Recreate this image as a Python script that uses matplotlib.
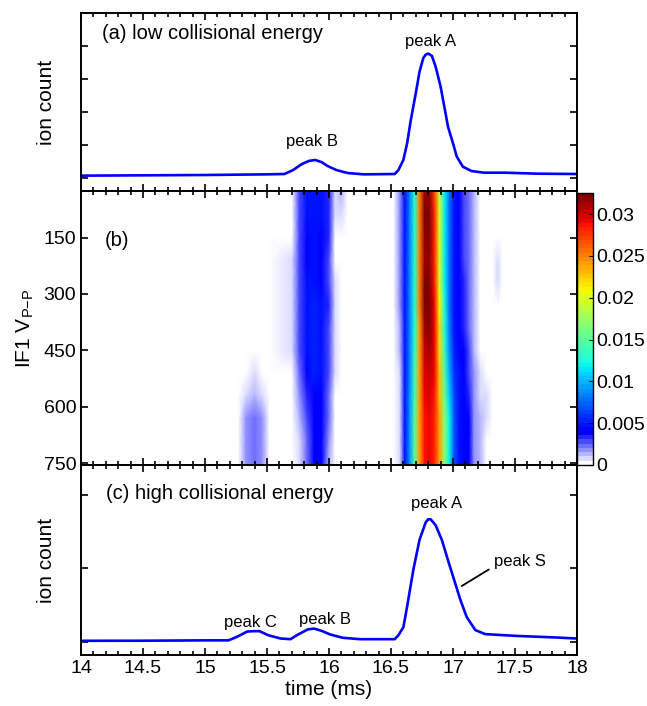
import numpy as np
import matplotlib
matplotlib.use('Agg')
import matplotlib.pyplot as plt
from matplotlib.colors import ListedColormap

plt.rcParams['font.family'] = ['Liberation Sans', 'DejaVu Sans']

# (a) low collisional energy trace (arbitrary units)
top_t = [14.0, 14.5, 15.0, 15.5, 15.64, 15.71, 15.78, 15.84, 15.89, 15.94, 15.99, 16.06,
         16.15, 16.28, 16.53, 16.56, 16.60, 16.63, 16.66, 16.70, 16.73, 16.76, 16.78,
         16.80, 16.83, 16.86, 16.90, 16.93, 16.96, 17.00, 17.03, 17.08, 17.15, 17.25,
         17.42, 17.68, 18.0]
top_y = [0.07, 0.08, 0.09, 0.11, 0.12, 0.24, 0.42, 0.52, 0.545, 0.48, 0.36, 0.24,
         0.15, 0.11, 0.12, 0.24, 0.55, 1.05, 1.76, 2.57, 3.22, 3.63, 3.74,
         3.77, 3.70, 3.37, 2.77, 2.16, 1.55, 1.05, 0.65, 0.34, 0.21, 0.16,
         0.16, 0.13, 0.12]

# (c) high collisional energy trace
bot_t = [14.0, 14.5, 15.0, 15.19, 15.26, 15.34, 15.39, 15.44, 15.51, 15.61, 15.69, 15.74,
         15.83, 15.88, 15.94, 16.01, 16.11, 16.25, 16.53, 16.56, 16.60, 16.63, 16.68,
         16.73, 16.78, 16.80, 16.82, 16.86, 16.91, 16.96, 17.01, 17.06, 17.11, 17.18,
         17.26, 17.52, 17.82, 18.0]
bot_y = [0.014, 0.015, 0.02, 0.02, 0.07, 0.14, 0.145, 0.145, 0.09, 0.045, 0.036, 0.09,
         0.17, 0.18, 0.15, 0.10, 0.055, 0.036, 0.036, 0.09, 0.2, 0.48, 0.98,
         1.39, 1.63, 1.67, 1.67, 1.59, 1.39, 1.11, 0.84, 0.57, 0.34, 0.16,
         0.105, 0.08, 0.06, 0.045]

# (b) map: time columns, IF1 voltage rows, values in units of 1e-3
map_t = [14.0,
         15.27, 15.33, 15.40, 15.46, 15.52,
         15.70, 15.76, 15.82, 15.88, 15.94, 16.00, 16.05, 16.10, 16.15,
         16.52, 16.57, 16.61, 16.65, 16.69, 16.73, 16.77, 16.81, 16.85, 16.89, 16.93,
         16.97, 17.01, 17.05, 17.09, 17.13, 17.17, 17.22, 17.27, 17.32, 17.36, 17.40,
         18.0]
map_v = [26, 90, 150, 210, 270, 330, 390, 450, 510, 570, 630, 690, 755]

peak_c = [[0, 0, 0, 0, 0], [0, 0, 0, 0, 0], [0, 0, 0, 0, 0], [0, 0, 0, 0, 0],
          [0, 0, 0, 0, 0], [0, 0, 0, 0, 0], [0, 0, 0, 0, 0], [0, 0, 0.4, 0, 0],
          [0, 0.4, 1.0, 0.4, 0], [0, 1.0, 1.5, 0.8, 0], [0, 2.0, 2.2, 1.8, 0],
          [0, 2.0, 2.3, 2.0, 0], [0, 2.0, 2.3, 2.0, 0]]
peak_b = [[0, 3.0, 4.6, 4.8, 4.6, 3.5, 1.0, 1.2, 0],
          [0, 3.0, 4.6, 4.8, 4.6, 3.5, 0.8, 1.0, 0],
          [0.5, 3.0, 4.5, 4.8, 4.5, 3.2, 0.5, 0.3, 0],
          [0.8, 3.0, 4.5, 5.0, 4.5, 3.0, 0.5, 0, 0],
          [0.8, 3.0, 4.6, 5.0, 4.5, 3.0, 0.8, 0, 0],
          [1.0, 3.0, 4.8, 5.2, 4.8, 3.2, 1.0, 0, 0],
          [1.0, 3.0, 5.0, 5.5, 5.0, 3.0, 1.0, 0, 0],
          [1.0, 3.0, 5.0, 5.5, 5.0, 3.0, 1.0, 0, 0],
          [0.5, 2.5, 4.5, 5.2, 4.8, 3.0, 0.8, 0, 0],
          [0, 2.0, 3.5, 4.5, 4.2, 2.5, 0.5, 0, 0],
          [0, 1.5, 3.0, 4.2, 4.0, 2.5, 0.3, 0, 0],
          [0, 1.0, 2.5, 4.5, 4.2, 2.0, 0, 0, 0],
          [0, 1.0, 2.5, 4.5, 4.0, 1.5, 0, 0, 0]]
peak_a = [[0, 2, 5, 8.5, 13, 25, 31, 31.5, 27, 19, 12, 8, 5, 4.5, 3, 2.5, 1.5, 0.3, 0, 0, 0, 0],
          [0, 2, 5, 8.5, 13, 25, 32, 32.5, 28, 20, 12, 8, 5, 4.5, 3, 2.5, 1.5, 0.3, 0, 0, 0, 0],
          [0, 2, 5, 8.5, 13, 25, 31.5, 32, 28, 20, 12, 8, 5, 4.5, 3, 2.5, 1.5, 0.5, 0, 0, 0.5, 0],
          [0, 2, 5, 8.5, 13, 25, 31, 31.5, 28, 20, 12, 8, 5, 4.5, 3, 2.5, 1.5, 0.5, 0, 0, 1.0, 0],
          [0, 2, 5, 8.5, 13, 25, 32, 32.5, 28.5, 20, 12, 8, 5, 4.5, 3.5, 2.5, 1.5, 0.5, 0, 0, 1.0, 0],
          [0, 2, 5, 8.5, 13, 25, 32, 32.5, 29, 21, 13, 8, 5, 4.5, 3.5, 2.5, 1.5, 0.5, 0, 0, 0.3, 0],
          [0, 1.5, 5, 8.5, 13, 24, 31, 32, 29, 22, 13, 8.5, 5, 4.5, 3.5, 2.5, 1.5, 0.5, 0, 0, 0, 0],
          [0, 1.5, 5, 8.5, 13.5, 24, 30, 31, 29, 22, 14, 9, 5.5, 4.5, 4, 3, 1.5, 0.5, 0, 0, 0, 0],
          [0, 1, 5, 8.5, 14, 24, 29.5, 30, 29, 23, 15, 10, 6, 5, 4, 3, 2, 0.8, 0.5, 0, 0, 0],
          [0, 1, 5, 9, 14, 24, 29, 29.5, 28.5, 23, 16, 11, 6.5, 5, 4.5, 3.5, 2, 1.0, 0.8, 0, 0, 0],
          [0, 1, 5, 9, 15, 24, 28.5, 29, 28, 24, 17, 12, 7, 5, 4.5, 4, 2, 1.5, 0.8, 0, 0, 0],
          [0, 1, 5, 9, 15, 24, 28.5, 29, 28, 24, 17, 12, 7, 5, 4.5, 4, 2, 1.5, 0.5, 0, 0, 0],
          [0, 1, 5, 9, 15, 24, 28.5, 29, 28, 24, 17, 12, 7, 5, 4.5, 4, 2, 1.5, 0.5, 0, 0, 0]]

cbar_ticks = [0, 0.005, 0.01, 0.015, 0.02, 0.025, 0.03]
cbar_labels = ['0', '0.005', '0.01', '0.015', '0.02', '0.025', '0.03']
v_ticks = [150, 300, 450, 600, 750]
t_ticks = [14, 14.5, 15, 15.5, 16, 16.5, 17, 17.5, 18]
t_labels = ['14', '14.5', '15', '15.5', '16', '16.5', '17', '17.5', '18']

# assemble map rows
Z = np.array([[0] + c + b + a + [0] for c, b, a in zip(peak_c, peak_b, peak_a)]) * 1e-3

# jet with white->blue bottom
ramp = np.linspace([1, 1, 1, 1], [0, 0, 1, 1], 8)
cmap = ListedColormap(np.vstack([ramp, plt.cm.jet(np.linspace(0.125, 1, 56))]))

fig = plt.figure(figsize=(6.47, 7.06), dpi=100)
L, W = 0.1252, 0.7666
ax1 = fig.add_axes([L, 0.7295, W, 0.2521])
ax2 = fig.add_axes([L, 0.3414, W, 0.3881])
ax3 = fig.add_axes([L, 0.0722, W, 0.2691])
cax = fig.add_axes([0.8918, 0.3414, 0.0247, 0.385])

fs = 14
lfs = 15
for ax in (ax1, ax2, ax3):
    ax.set_xlim(14, 18)
    ax.set_xticks(t_ticks)
    ax.set_xticks(np.arange(14, 18.01, 0.1), minor=True)
    ax.tick_params(which='both', direction='in', top=True, right=True, labelsize=fs, width=1.2)
    ax.tick_params(which='major', length=5)
    ax.tick_params(which='minor', length=3)
    for s in ax.spines.values():
        s.set_linewidth(1.4)

# (a)
ax1.plot(top_t, top_y, color='#0000ff', lw=1.9)
ax1.set_ylim(-0.394, 5.0)
ax1.set_yticks([0, 1, 2, 3, 4])
ax1.set_yticklabels([])
ax1.set_xticklabels([])
ax1.set_ylabel('ion count', fontsize=lfs)
ax1.yaxis.set_label_coords(-0.05, 0.5)
ax1.text(14.17, 4.38, '(a) low collisional energy', fontsize=14.5, va='center')
ax1.text(16.82, 4.13, 'peak A', fontsize=12, ha='center', va='center')
ax1.text(15.86, 1.1, 'peak B', fontsize=12, ha='center', va='center')

# (b)
mesh = ax2.pcolormesh(map_t, map_v, Z, shading='gouraud', cmap=cmap, vmin=0, vmax=0.0325)
ax2.set_ylim(755, 26)
ax2.set_yticks(v_ticks)
ax2.set_xticklabels([])
ax2.set_ylabel('IF1 V$_{\\mathregular{P{\u2212}P}}$', fontsize=lfs)
ax2.yaxis.set_label_coords(-0.09, 0.5)
ax2.text(14.19, 157, '(b)', fontsize=14.5, va='center')

cb = fig.colorbar(mesh, cax=cax, ticks=cbar_ticks)
cb.ax.set_yticklabels(cbar_labels)
cb.ax.tick_params(labelsize=fs, direction='in', length=3, pad=2)
cb.outline.set_linewidth(1.0)

# (c)
ax3.plot(bot_t, bot_y, color='#0000ff', lw=1.9)
ax3.set_ylim(-0.18, 2.41)
ax3.set_yticks([0, 1, 2])
ax3.set_yticklabels([])
ax3.set_xticklabels(t_labels)
ax3.set_ylabel('ion count', fontsize=lfs)
ax3.yaxis.set_label_coords(-0.05, 0.5)
ax3.set_xlabel('time (ms)', fontsize=lfs, labelpad=2)
ax3.text(14.2, 2.02, '(c) high collisional energy', fontsize=14.5, va='center')
ax3.text(16.87, 1.89, 'peak A', fontsize=12, ha='center', va='center')
ax3.text(15.37, 0.27, 'peak C', fontsize=12, ha='center', va='center')
ax3.text(15.97, 0.30, 'peak B', fontsize=12, ha='center', va='center')
ax3.annotate('peak S', xy=(17.07, 0.76), xytext=(17.33, 1.09), fontsize=12, va='center',
             arrowprops=dict(arrowstyle='-', color='black', lw=1.3, shrinkA=2, shrinkB=0,
                             relpos=(0, 0.2)))

fig.savefig('out.png', dpi=100)
